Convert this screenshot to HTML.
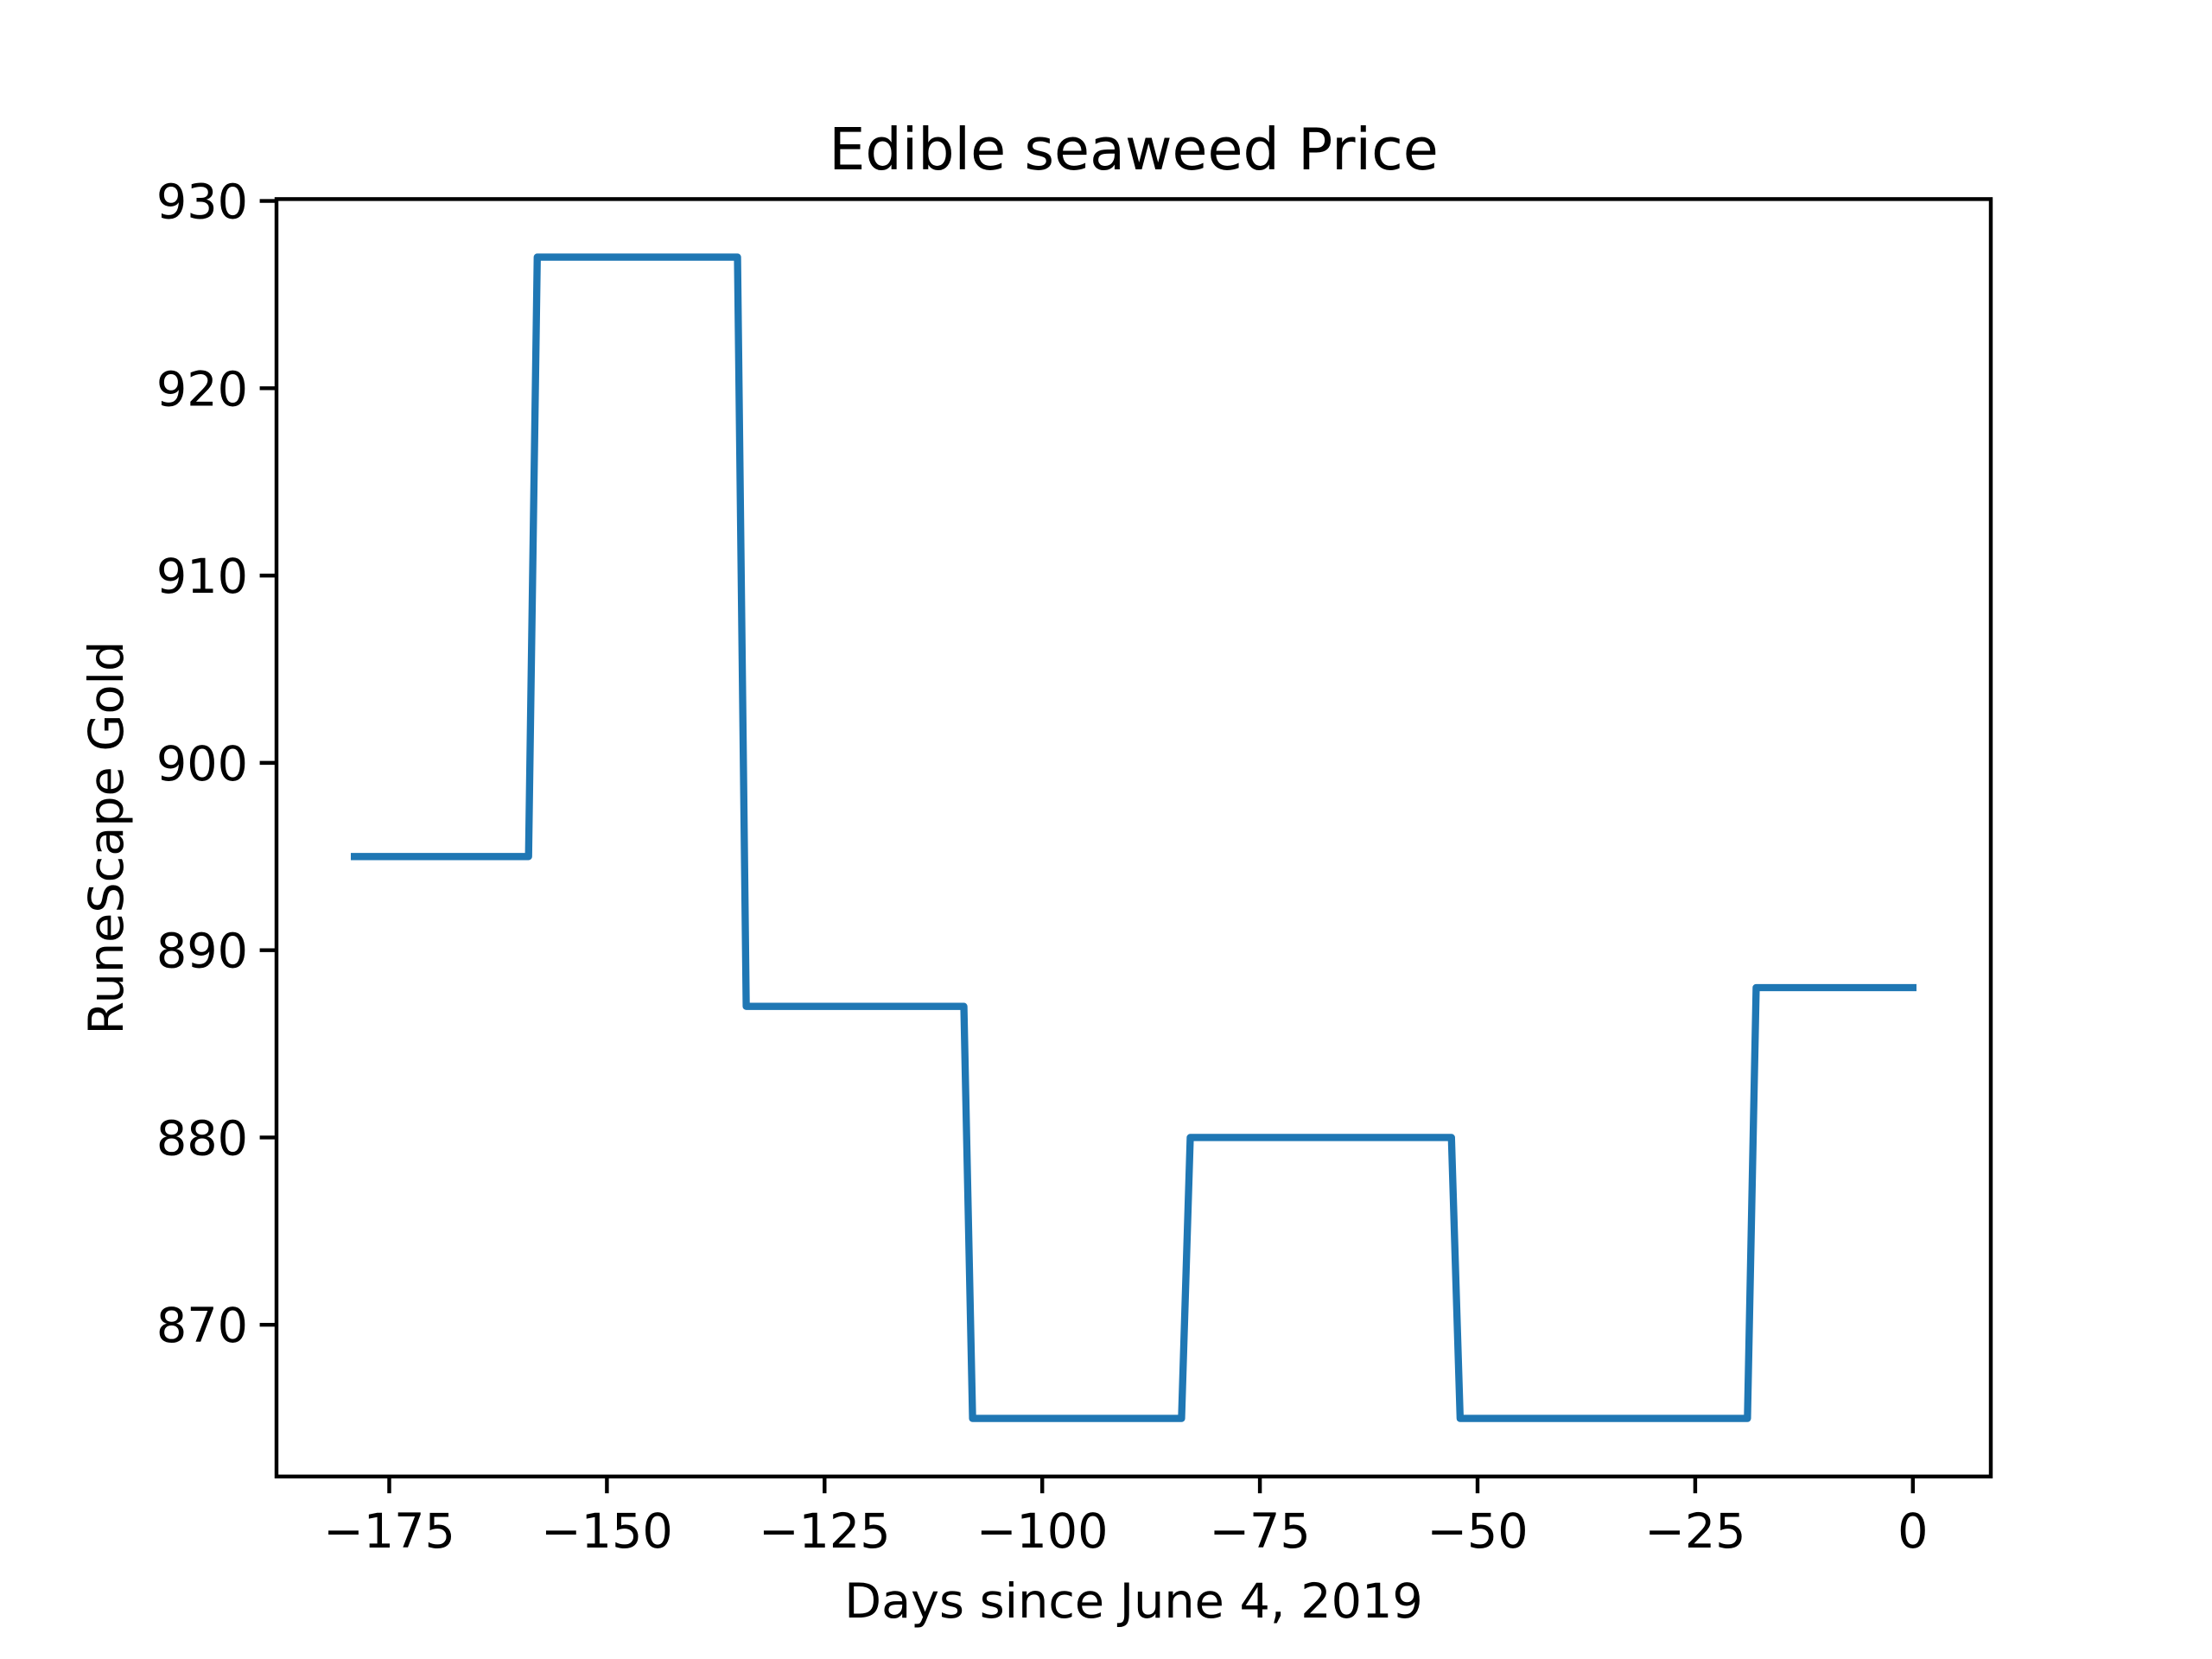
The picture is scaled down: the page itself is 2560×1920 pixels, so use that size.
<!DOCTYPE html>
<html><head><meta charset="utf-8"><style>
html,body{margin:0;padding:0;background:#fff}
svg{display:block}
text{font-family:"DejaVu Sans","Liberation Sans",sans-serif;fill:#000}
</style></head><body>
<svg id="chart" width="2560" height="1920" viewBox="0 0 2560 1920" xmlns="http://www.w3.org/2000/svg">
<rect width="2560" height="1920" fill="#fff"/>
<g id="grid"></g>
<text x="1312" y="196" font-size="66.7" text-anchor="middle">Edible seaweed Price</text>
<text x="1312" y="1872" font-size="55.6" text-anchor="middle">Days since June 4, 2019</text>
<text x="0" y="0" font-size="55.6" text-anchor="middle" transform="translate(142,969.6) rotate(-90)">RuneScape Gold</text>
</svg>
<script>
const days = [-179,-159,-158,-135,-134,-109,-108,-84,-83,-53,-52,-19,-18,0];
const prices = [895,895,927,927,887,887,865,865,880,880,865,865,888,888];
const xTicks = [-175,-150,-125,-100,-75,-50,-25,0];
const yTicks = [870,880,890,900,910,920,930];

const L=320,R=2304,T=230.4,B=1708.8;
const xmin=-187.95,xmax=8.95,ymin=861.9,ymax=930.1;
const sx=v=>L+(v-xmin)/(xmax-xmin)*(R-L);
const sy=v=>B-(v-ymin)/(ymax-ymin)*(B-T);
const NS="http://www.w3.org/2000/svg";
const svg=document.getElementById('chart');
function mk(tag,attrs){const e=document.createElementNS(NS,tag);for(const k in attrs)e.setAttribute(k,attrs[k]);svg.appendChild(e);return e;}

const pts=days.map((d,i)=>sx(d).toFixed(2)+','+sy(prices[i]).toFixed(2)).join(' ');
const line=mk('polyline',{points:pts,fill:'none',stroke:'#1f77b4','stroke-width':8.33,'stroke-linejoin':'round','stroke-linecap':'square'});



const frame=mk('rect',{x:L,y:T,width:R-L,height:B-T,fill:'none',stroke:'#000','stroke-width':4.44});



xTicks.forEach(t=>{
  const x=sx(t);
  const tk=mk('line',{x1:x,x2:x,y1:B,y2:B+19.4,stroke:'#000','stroke-width':4.44});
  
  
  const lb=mk('text',{x:x,y:B+82,'font-size':55.6,'text-anchor':'middle'});
  lb.textContent=(t<0?'\u2212'+(-t):String(t));
  
  
});
yTicks.forEach(t=>{
  const y=sy(t);
  const tk=mk('line',{x1:L-19.4,x2:L,y1:y,y2:y,stroke:'#000','stroke-width':4.44});
  
  
  const lb=mk('text',{x:L-33,y:y+20,'font-size':55.6,'text-anchor':'end'});
  lb.textContent=String(t);
  
  
});
</script>
</body></html>
